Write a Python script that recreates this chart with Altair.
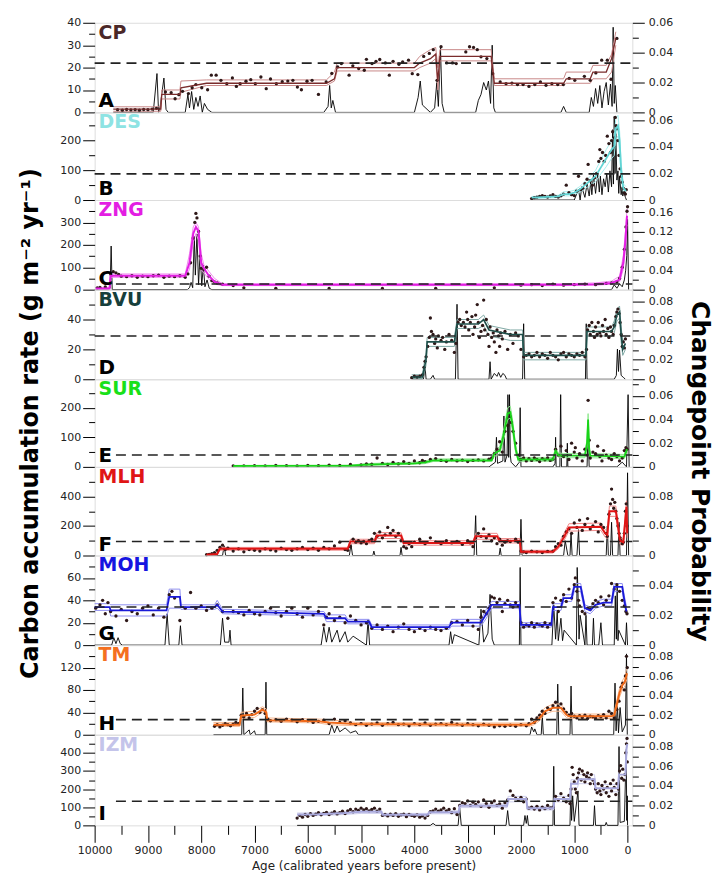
import altair as alt
import pandas as pd

FONT = "DejaVu Sans"
X_DOMAIN = [10000, -90]
X_TICKS = list(range(10000, -1, -500))
WIDTH = 540

# ---------------- CP ----------------
CP_DOTS = [(9570,1.2),(9480,1.0),(9400,1.3),(9320,1.1),(9240,1.2),(9160,1.0),(9080,1.3),(9000,1.2),(8920,1.5),(8840,1.8),
           (8672,9.1),(8564,8.8),(8490,6.1),(8420,7.9),(8350,9.4),(8240,8.4),(8170,11),(8100,12.4),(7990,11),(7880,10.1),
           (7810,16.6),(7720,16.6),(7630,14.3),(7520,12.8),(7415,15.4),(7340,11.6),(7270,12.8),(7160,13.9),(7070,14.6),(6985,12.8),
           (6880,15.8),(6780,10.6),(6700,14.9),(6590,12.8),(6480,13.7),(6375,14),(6280,14.3),(6195,11.3),(6120,10.1),(6015,13.9),
           (5920,14.3),(5800,8),(5655,13.6),(5550,17.4),(5440,20.3),(5370,21.8),(5225,16.6),(5155,20.8),(5045,19.6),(4940,18.8),
           (4900,23.7),(4795,21.8),(4720,22.8),(4650,23.6),(4545,22.1),(4470,16.6),(4400,22.8),(4290,21.5),(4220,22.5),(4110,23.3),
           (4040,17.3),(3935,16.9),(3825,25),(3720,26.3),(3645,28),(3575,14.3),(3500,29.3),(3395,22.1),(3285,22.1),(3215,21.8),
           (3035,27),(2965,29.3),(2890,29),(2820,28),(2750,24.8),(2640,24),(2530,17.3),(2390,13.6),(2280,12.8),(2170,13.1),
           (2065,12.4),(1960,12.4),(1850,11.6),(1740,12.4),(1635,13.6),(1530,12.1),(1420,12.8),(1310,12.4),(1205,12.4),(1095,15.2),
           (990,14.3),(810,16.1),(700,14.3),(595,17.6),(485,23.3),(380,23.3),(310,14.8),(200,33)]
CP_MODEL = [(9650,1.5,0.5,2.5),(8760,1.5,0.5,2.5),(8740,8,6,10),(8400,8,6,10),(8380,11,9,14),(7900,13,12,14.5),
            (5650,13,12,14.5),(5500,15,14,18),(5450,20,18.5,22),(4000,20,18.5,22),(3900,22,20,25),(3700,24,22,28),
            (3600,26,24,29),(3560,14,10,20),(3520,25,23,28),(2560,25,23,28),(2500,13,12,15),(1200,13,12,15),
            (1150,15,13,18),(700,15,13,18),(650,18,15,21),(400,18,15,21),(300,24,18,26),(220,33,30,36)]
CP_CHANGE = [(9650,0),(8900,0),(8830,0.026),(8800,0),(8770,0.004),(8700,0.023),(8660,0.002),(8620,0),
             (8300,0),(8250,0.012),(8220,0.003),(8180,0.014),(8140,0.002),(8100,0.01),(8060,0.004),(8020,0.011),(7980,0),(7940,0.006),(7880,0.002),(7800,0),
             (5700,0),(5620,0.004),(5590,0.018),(5560,0.003),(5530,0.008),(5480,0),
             (4000,0),(3930,0.01),(3890,0.021),(3850,0.005),
             (3700,0),(3620,0.003),(3580,0.02),(3550,0.004),(3510,0.043),(3480,0.006),(3440,0),
             (2850,0),(2800,0.008),(2750,0.012),(2700,0.02),(2650,0.015),(2610,0.021),(2570,0.006),(2540,0.045),(2510,0.003),(2480,0),
             (1250,0),(1200,0.004),(1150,0),
             (720,0),(680,0.01),(640,0.004),(600,0.016),(560,0.006),(520,0.018),(480,0.003),(440,0.014),(400,0.02),(360,0.005),
             (320,0.019),(290,0.004),(270,0.057),(250,0.006),(230,0.018),(200,0)]
CP_MEAN = 22

# ---------------- DES ----------------
DES_DOTS = [(1800,5),(1750,8),(1700,10),(1650,12),(1600,15),(1550,12),(1500,10),(1450,14),(1400,18),(1350,12),(1300,10),
            (1250,14),(1200,20),(1150,50),(1100,25),(1050,18),(1000,15),(960,30),(920,80),(880,35),(840,40),(800,55),(760,70),
            (740,120),(700,65),(660,50),(620,75),(580,90),(540,130),(520,170),(500,140),(470,160),(440,130),(410,150),(380,215),
            (350,190),(320,160),(300,200),(280,230),(260,180),(245,210),(230,278),(215,250),(200,240),(180,200),(160,150),
            (140,105),(120,80),(100,60),(80,40),(60,25),(40,20),(25,35)]
DES_MODEL = [(1800,8,5,12),(1300,12,8,16),(1200,20,14,28),(1100,20,14,28),(1000,25,18,33),(900,35,26,45),(800,50,38,62),
             (700,65,50,80),(600,80,62,100),(500,110,88,135),(400,140,112,170),(300,170,140,200),(250,180,150,215),
             (220,240,205,275),(180,250,215,285),(150,200,165,235),(120,100,75,125),(80,40,28,55),(30,30,18,45)]
DES_CHANGE = [(1800,0),(1000,0),(920,0.008),(890,0),(860,0.01),(800,0.002),(760,0.012),(720,0.003),(690,0.014),(670,0.004),
              (640,0.019),(600,0.005),(560,0.02),(530,0.006),(510,0.018),(480,0.004),(450,0.016),(420,0.01),(390,0.02),(360,0.006),
              (330,0.022),(300,0.01),(280,0.053),(265,0.012),(250,0.063),(235,0.02),(220,0.05),(200,0.015),(180,0.022),(165,0.005),
              (150,0.018),(120,0.004),(100,0.01),(90,0.003),(70,0.006),(40,0.002),(20,0)]
DES_MEAN = 88

# ---------------- ZNG ----------------
ZNG_DOTS = [(9950,8),(9900,10),(9800,12),(9700,70),(9650,80),(9600,75),(9550,68),(9500,60),(9400,58),(9300,62),(9200,55),
            (9100,60),(9000,58),(8900,62),(8800,65),(8700,55),(8600,60),(8500,58),(8400,62),(8300,55),(8250,70),(8200,120),
            (8150,230),(8120,300),(8100,340),(8080,320),(8050,260),(8020,150),(8000,95),(7950,90),(7900,100),(7850,60),
            (7800,40),(7750,35),(7700,30),(7600,25),(7400,18),(7200,8),(6600,6),(5600,5),(4600,5),(3600,6),(2500,8),
            (2000,20),(1800,22),(1600,18),(1400,25),(1200,20),(1000,22),(800,25),(600,22),(400,28),(300,30),(200,35),
            (150,50),(100,100),(60,180),(30,280),(10,350),(0,370)]
ZNG_MODEL = [(9980,5,2,10),(9720,5,2,10),(9700,62,55,70),(8300,62,55,70),(8220,120,90,160),(8150,250,210,280),
             (8100,280,250,300),(8050,260,220,280),(8000,120,90,160),(7950,95,75,110),(7850,60,45,80),(7750,35,25,50),
             (7600,22,18,26),(1200,22,18,26),(600,24,20,30),(300,30,24,38),(150,45,35,60),(80,120,90,150),
             (40,220,180,260),(10,330,290,360)]
ZNG_CHANGE = [(9980,0),(9740,0),(9710,0.003),(9690,0.09),(9670,0),(8260,0),(8220,0.004),(8190,0.015),(8160,0.004),
              (8130,0.11),(8110,0.03),(8080,0.115),(8050,0.01),(8020,0.08),(7990,0.008),(7960,0.05),(7930,0.006),
              (7890,0.02),(7850,0.003),(7800,0),(600,0),(300,0),(250,0.01),(200,0.003),(150,0.012),(100,0.006),
              (60,0.02),(35,0.04),(15,0.07),(0,0.145),(-20,0)]
ZNG_MEAN = 25

# ---------------- BVU ----------------
BVU_DOTS = [(4050,1),(4000,2),(3950,1.5),(3900,2),(3850,3),(3820,8),(3800,12),(3780,15),(3750,22),(3720,28),(3700,41),
            (3680,32),(3650,30),(3620,24),(3600,27),(3570,21),(3550,29),(3500,26),(3470,28),(3430,20),(3400,25),(3350,30),
            (3300,26),(3250,18),(3220,24),(3180,38),(3150,40),(3120,36),(3080,38),(3050,35),(3020,45),(3000,40),(2980,33),
            (2950,38),(2920,42),(2900,30),(2870,35),(2850,43),(2820,50),(2800,38),(2780,28),(2750,32),(2720,36),(2700,53),
            (2680,33),(2650,40),(2620,30),(2600,22),(2580,35),(2550,28),(2520,31),(2500,25),(2470,18),(2450,33),(2420,29),
            (2400,22),(2380,31),(2350,27),(2300,32),(2250,20),(2200,30),(2150,24),(2100,31),(2050,29),(2000,20),(1950,15),
            (1900,16),(1850,17),(1800,15),(1750,16),(1700,18),(1650,15),(1600,17),(1550,16),(1500,14),(1450,18),(1400,16),
            (1350,15),(1300,13),(1250,17),(1200,18),(1150,15),(1100,17),(1050,16),(1000,15),(950,17),(900,16),(850,18),
            (800,15),(770,20),(750,33),(720,36),(700,30),(670,38),(640,32),(620,28),(600,35),(570,30),(550,38),(520,31),
            (500,29),(470,36),(450,32),(420,40),(400,30),(370,34),(350,28),(320,35),(300,32),(270,30),(250,36),(220,42),
            (200,45),(180,47),(160,44),(140,38),(120,30),(100,22),(80,25),(60,21),(40,27)]
BVU_MODEL = [(4050,1.5,0.5,3),(3850,1.5,0.5,3),(3800,10,6,14),(3780,14,10,18),(3760,25,22,28),(3250,25,22,28),
             (3200,37,34,40),(2800,37,34,40),(2700,40,36,43),(2600,33,29,36),(2200,30,26,33),(1970,30,26,33),
             (1950,16,13,18),(780,16,13,18),(760,32,29,35),(300,32,29,35),(250,35,31,39),(200,43,39,47),
             (150,45,41,49),(120,30,25,35),(90,20,16,25),(40,24,20,28)]
BVU_CHANGE = [(4050,0),(3830,0),(3800,0.013),(3780,0),(3700,0),(3650,0.004),(3620,0),(3230,0),(3200,0.077),(3180,0),
              (2700,0),(2600,0),(2580,0.018),(2560,0),(2500,0.006),(2450,0.003),(2420,0.007),(2380,0.002),(2340,0.006),
              (2300,0.004),(2270,0),(1970,0),(1950,0.057),(1930,0),(790,0),(775,0.057),(760,0),(250,0),(210,0.004),
              (190,0.031),(170,0.008),(150,0.03),(120,0.004),(80,0.002),(40,0)]
BVU_MEAN = 29

# ---------------- SUR ----------------
SUR_DOTS = [(7400,3),(7200,3),(7000,4),(6800,3),(6600,5),(6400,4),(6200,3),(6000,5),(5800,4),(5600,6),(5400,5),(5200,8),
            (5000,7),(4900,10),(4800,9),(4700,30),(4600,12),(4500,8),(4400,15),(4300,10),(4200,18),(4100,12),(4000,20),
            (3900,14),(3850,22),(3800,18),(3700,25),(3600,28),(3500,22),(3400,19),(3300,25),(3200,20),(3100,23),(3000,18),
            (2900,22),(2800,24),(2700,20),(2600,26),(2550,30),(2500,45),(2450,60),(2400,85),(2350,50),(2300,120),(2250,140),
            (2200,170),(2180,150),(2150,120),(2100,80),(2050,40),(2000,25),(1950,30),(1900,20),(1850,28),(1800,22),(1750,30),
            (1700,25),(1650,18),(1600,28),(1550,24),(1500,30),(1450,22),(1400,26),(1350,60),(1300,40),(1250,70),(1200,35),
            (1150,55),(1100,25),(1050,80),(1000,50),(980,65),(950,30),(900,45),(850,20),(800,60),(760,40),(740,225),(720,90),
            (700,30),(650,50),(600,45),(560,70),(520,35),(480,20),(450,55),(400,40),(350,30),(300,25),(250,45),(200,35),
            (150,20),(100,30),(60,55),(30,65),(10,60)]
SUR_MODEL = [(7400,3,1.5,5),(5200,4,2.5,6),(4900,8,5,11),(4000,12,9,16),(3800,15,11,20),(3650,22,18,27),(2550,22,18,27),
             (2500,45,35,55),(2400,55,44,68),(2350,90,75,105),(2300,130,110,150),(2250,180,160,200),(2200,185,165,205),
             (2150,130,110,150),(2100,60,48,75),(2050,25,19,32),(1400,25,19,32),(1350,55,45,65),(1300,40,33,48),
             (1200,38,31,45),(800,38,31,45),(760,80,65,95),(740,160,140,180),(720,60,48,75),(700,38,31,45),
             (60,35,28,42),(30,50,40,60),(10,60,50,70)]
SUR_CHANGE = [(7400,0),(2600,0),(2480,0.004),(2460,0.025),(2440,0.003),(2340,0.005),(2320,0.043),(2300,0.004),(2260,0.01),
              (2245,0.061),(2230,0.008),(2215,0.061),(2200,0.01),(2185,0.004),(2100,0),(2030,0.004),(2015,0.05),(2000,0),
              (1400,0),(1360,0.003),(1350,0.025),(1340,0),(1270,0),(1255,0.061),(1240,0),(1140,0),(1130,0.02),(1120,0),
              (760,0),(740,0.03),(720,0),(200,0),(100,0.004),(20,0),(-10,0.061),(-30,0)]
SUR_MEAN = 40

# ---------------- MLH ----------------
MLH_DOTS = [(7900,5),(7850,8),(7800,12),(7750,20),(7700,35),(7650,55),(7600,70),(7550,40),(7500,50),(7400,30),(7300,45),
            (7200,25),(7100,40),(7000,35),(6900,30),(6800,45),(6700,38),(6600,30),(6500,50),(6400,40),(6300,35),(6200,45),
            (6100,55),(6000,40),(5900,50),(5800,35),(5700,55),(5600,45),(5500,65),(5400,90),(5300,40),(5250,35),(5200,60),
            (5150,110),(5100,90),(5050,100),(5000,85),(4950,95),(4900,80),(4850,100),(4800,110),(4750,150),(4700,130),
            (4650,160),(4600,120),(4550,140),(4500,190),(4450,150),(4400,170),(4350,130),(4300,150),(4250,100),(4200,60),
            (4150,50),(4100,80),(4050,60),(4000,90),(3900,110),(3800,80),(3700,120),(3600,90),(3500,80),(3400,100),
            (3300,85),(3200,95),(3100,75),(3000,100),(2950,85),(2900,60),(2850,120),(2800,150),(2750,130),(2700,180),
            (2650,120),(2600,140),(2550,100),(2500,120),(2450,80),(2400,110),(2350,70),(2300,90),(2250,100),(2200,95),
            (2100,110),(2050,90),(2000,30),(1950,25),(1900,20),(1800,30),(1700,25),(1600,20),(1500,28),(1400,30),(1350,60),
            (1300,80),(1250,70),(1200,130),(1150,160),(1100,180),(1050,150),(1000,220),(950,190),(900,240),(850,170),
            (800,210),(750,250),(700,180),(650,200),(600,230),(550,160),(500,210),(450,190),(400,150),(380,130),(350,280),
            (320,350),(300,450),(280,380),(260,320),(240,360),(220,300),(200,250),(180,200),(160,150),(140,120),(120,100),
            (100,80),(80,90),(60,150),(40,300),(25,350),(10,200)]
MLH_MODEL = [(7900,5,2,10),(7700,10,5,16),(7650,45,36,55),(5250,45,36,55),(5200,95,80,110),(4750,95,80,110),
             (4700,135,115,155),(4250,135,115,155),(4200,85,70,100),(2900,85,70,100),(2850,130,110,150),
             (2450,130,110,150),(2400,100,85,115),(2020,100,85,115),(2000,25,17,35),(1400,25,17,35),(1300,60,45,75),
             (1200,120,95,145),(1100,190,165,215),(500,195,170,220),(420,150,125,175),(380,140,115,165),
             (340,300,265,335),(220,300,265,335),(180,200,170,230),(140,100,75,125),(80,90,70,110),(40,250,210,290),
             (20,330,290,370),(5,150,120,180)]
MLH_CHANGE = [(7900,0),(7600,0),(7570,0.013),(7540,0),(5220,0),(5190,0.015),(5160,0),(4780,0),(4760,0.006),(4740,0),
              (4270,0),(4250,0.011),(4230,0),(2880,0),(2850,0.054),(2830,0),(2410,0),(2390,0.01),(2370,0),(2020,0),
              (2000,0.049),(1980,0),(1200,0),(1170,0.02),(1120,0),(1080,0),(1060,0.03),(1040,0),(950,0),(920,0.035),
              (900,0),(400,0),(380,0.04),(360,0),(320,0),(300,0.045),(280,0),(180,0),(160,0.045),(140,0),(20,0),
              (0,0.112),(-20,0)]
MLH_MEAN = 95

# ---------------- MOH ----------------
MOH_DOTS = [(9980,33),(9900,36),(9850,40),(9800,28),(9750,38),(9700,30),(9600,26),(9500,32),(9400,22),(9300,30),(9200,28),
            (9100,33),(9000,35),(8900,27),(8800,33),(8700,25),(8600,45),(8550,48),(8500,42),(8400,22),(8300,33),(8200,47),
            (8100,33),(8000,35),(7900,31),(7800,33),(7700,36),(7600,30),(7500,24),(7400,30),(7300,29),(7200,27),(7100,31),
            (7000,28),(6900,27),(6800,30),(6700,33),(6600,29),(6500,26),(6400,30),(6300,33),(6200,28),(6100,25),(6000,33),
            (5900,27),(5800,30),(5700,18),(5650,25),(5600,28),(5500,22),(5400,25),(5300,20),(5200,26),(5100,22),(5000,18),
            (4900,20),(4800,15),(4700,18),(4600,14),(4500,17),(4400,12),(4300,16),(4200,19),(4100,14),(4000,12),(3900,15),
            (3800,13),(3700,16),(3600,14),(3500,13),(3400,15),(3300,20),(3200,21),(3100,18),(3000,22),(2900,17),(2800,14),
            (2750,25),(2700,30),(2650,28),(2600,33),(2550,43),(2500,42),(2450,38),(2400,41),(2350,30),(2300,37),(2250,40),
            (2200,36),(2150,34),(2100,38),(2050,35),(2000,20),(1950,16),(1900,18),(1850,17),(1800,20),(1750,16),(1700,19),
            (1650,18),(1600,17),(1550,20),(1500,16),(1450,19),(1400,38),(1350,42),(1300,30),(1250,40),(1200,45),(1150,39),
            (1100,50),(1050,42),(1000,54),(980,60),(950,48),(920,40),(900,35),(850,30),(800,28),(750,33),(700,32),(650,37),
            (600,40),(550,38),(500,43),(450,36),(400,40),(350,44),(300,55),(250,50),(200,54),(150,48),(100,40),(60,35),
            (30,30),(10,28)]
MOH_MODEL = [(10000,34,31,37),(9720,34,31,37),(9700,31,26,36),(8650,31,26,36),(8600,43,33,50),(8400,43,33,50),
             (8380,34,32,36),(7750,34,32,36),(7700,36,33,40),(7600,30,28,32),(5700,28,26,30),(5650,24,21,27),
             (5300,24,21,27),(5250,21,19,23),(4850,21,19,23),(4800,16,14,18),(3350,16,14,18),(3300,20,17,23),
             (2750,20,17,23),(2650,28,24,32),(2550,36,33,39),(2030,36,33,39),(2000,18,16,20),(1430,18,16,20),
             (1400,34,31,37),(1250,34,31,37),(1200,42,39,45),(1050,42,39,45),(1000,52,48,55),(880,52,48,55),
             (800,33,30,36),(700,31,28,34),(600,36,33,39),(450,38,35,41),(300,38,35,41),(250,52,48,55),
             (100,52,48,55),(60,40,36,44),(20,30,27,34)]
MOH_CHANGE = [(10000,0),(9680,0),(9640,0.005),(9600,0.001),(9560,0.005),(9520,0.001),(9480,0),(8680,0),(8640,0.021),
              (8600,0),(8420,0),(8390,0.013),(8360,0),(7640,0),(7600,0.018),(7560,0.002),(7480,0.002),(7460,0.01),
              (7440,0),(5750,0),(5700,0.012),(5650,0.002),(5600,0.012),(5550,0.002),(5450,0.01),(5400,0.002),
              (5300,0.009),(5250,0.002),(5150,0.006),(4900,0),(4870,0.017),(4840,0),(3350,0),(3320,0.009),
              (3290,0.001),(3250,0.007),(2790,0),(2750,0.024),(2700,0.002),(2620,0.008),(2580,0.034),(2540,0.004),
              (2500,0),(2030,0),(2015,0.052),(2000,0),(1420,0),(1385,0.027),(1350,0.004),(1320,0.022),(1300,0.003),
              (1250,0.018),(1220,0.003),(1190,0.01),(960,0),(945,0.052),(930,0.035),(910,0.004),(890,0.02),(800,0),
              (780,0.02),(760,0),(660,0),(640,0.018),(620,0),(540,0),(500,0.015),(470,0),(250,0),(230,0.033),
              (210,0.004),(195,0.04),(180,0.003),(165,0.01),(40,0),(20,0.015),(0,0)]
MOH_MEAN = 34

# ---------------- TM ----------------
TM_DOTS = [(7750,15),(7700,18),(7650,14),(7600,17),(7550,20),(7500,18),(7450,16),(7400,19),(7350,22),(7300,20),(7250,35),
           (7200,32),(7150,38),(7100,30),(7050,36),(7000,42),(6950,47),(6900,40),(6850,45),(6800,38),(6750,28),(6700,25),
           (6600,27),(6500,24),(6400,28),(6300,26),(6200,23),(6100,27),(6000,25),(5900,22),(5800,24),(5700,26),(5600,20),
           (5500,28),(5400,22),(5300,25),(5200,21),(5100,18),(5000,20),(4900,17),(4800,19),(4700,21),(4600,17),(4500,20),
           (4400,22),(4300,18),(4200,19),(4100,16),(4000,20),(3900,18),(3800,21),(3700,17),(3600,19),(3500,20),(3400,18),
           (3300,22),(3200,19),(3100,17),(3000,20),(2900,18),(2800,16),(2700,19),(2600,17),(2500,14),(2400,16),(2300,15),
           (2200,17),(2100,15),(2000,18),(1900,16),(1850,20),(1800,28),(1750,22),(1700,30),(1650,35),(1600,42),(1550,38),
           (1500,48),(1450,45),(1400,52),(1350,58),(1300,50),(1250,55),(1200,46),(1150,40),(1100,35),(1050,38),(1000,33),
           (950,30),(900,34),(850,31),(800,35),(750,29),(700,33),(650,32),(600,30),(550,34),(500,32),(450,36),(400,30),
           (350,42),(300,38),(250,30),(200,45),(160,60),(120,85),(90,92),(60,80),(40,105),(20,140),(5,120)]
TM_MODEL = [(7770,18,15,22),(7280,18,15,22),(7250,34,29,40),(7000,36,31,42),(6850,45,40,50),(6780,40,34,46),
            (6760,26,23,30),(5800,24,21,28),(5600,22,18,27),(5100,19,16,22),(2600,18,15,21),(1850,18,15,21),
            (1750,22,18,27),(1650,30,25,36),(1550,42,37,48),(1400,48,42,55),(1250,48,42,55),(1150,36,31,42),
            (1100,33,29,37),(300,33,29,37),(250,35,31,40),(200,55,48,62),(150,75,67,83),(100,88,80,96),
            (50,95,87,104),(10,110,100,120)]
TM_CHANGE = [(7770,0),(7240,0),(7220,0.048),(7200,0),(7100,0.005),(7080,0),(7000,0.004),(6980,0),(6800,0),(6785,0.054),
             (6770,0),(5600,0),(5550,0.01),(5500,0.002),(5450,0.009),(5400,0.003),(5300,0.007),(5200,0.002),(5100,0.004),
             (5050,0),(1830,0),(1800,0.008),(1760,0.003),(1740,0.006),(1700,0),(1620,0),(1600,0.02),(1580,0),(1330,0),
             (1310,0.052),(1290,0),(1080,0),(1060,0.05),(1040,0),(260,0),(235,0.053),(215,0.004),(190,0.03),(170,0.002),
             (140,0.028),(100,0.003),(40,0.01),(20,0.083),(5,0)]
TM_MEAN = 27

# ---------------- IZM ----------------
IZM_DOTS = [(6200,40),(6150,55),(6100,45),(6050,60),(6000,50),(5950,65),(5900,55),(5850,62),(5800,70),(5750,58),(5700,66),
            (5650,72),(5600,60),(5550,68),(5500,75),(5450,63),(5400,70),(5350,78),(5300,65),(5250,80),(5200,88),(5150,75),
            (5100,90),(5050,82),(5000,95),(4950,85),(4900,92),(4850,80),(4800,88),(4750,95),(4700,78),(4650,90),(4600,55),
            (4550,60),(4500,52),(4450,62),(4400,55),(4350,65),(4300,50),(4250,58),(4200,62),(4150,48),(4100,60),(4050,55),
            (4000,50),(3950,58),(3900,45),(3850,52),(3800,40),(3750,55),(3700,75),(3650,80),(3600,90),(3550,78),(3500,85),
            (3450,95),(3400,80),(3350,88),(3300,70),(3250,92),(3200,60),(3150,110),(3100,125),(3050,120),(3000,135),
            (2950,110),(2900,128),(2850,115),(2800,130),(2750,105),(2700,140),(2650,120),(2600,100),(2550,125),(2500,135),
            (2450,110),(2400,118),(2350,95),(2300,125),(2250,140),(2200,190),(2150,165),(2100,150),(2050,140),(2000,155),
            (1950,130),(1900,145),(1850,95),(1800,100),(1750,90),(1700,105),(1650,85),(1600,100),(1550,92),(1500,110),
            (1450,96),(1400,100),(1350,160),(1300,140),(1250,175),(1200,150),(1150,130),(1100,165),(1080,120),(1060,200),
            (1040,320),(1020,280),(1000,240),(980,200),(960,180),(940,260),(920,290),(900,310),(870,250),(850,300),
            (820,280),(800,240),(770,270),(750,290),(720,260),(700,230),(680,280),(650,250),(620,230),(600,200),(570,180),
            (550,230),(520,190),(500,170),(480,220),(450,200),(420,240),(400,180),(380,210),(350,160),(320,230),(300,190),
            (270,250),(250,210),(220,170),(200,230),(170,200),(150,300),(130,330),(110,260),(90,310),(70,250),(50,280),
            (35,400),(20,450),(10,480),(5,350)]
IZM_MODEL = [(6200,60,52,68),(5800,62,54,70),(5300,68,60,76),(5000,75,66,84),(4620,75,66,84),(4600,58,50,66),
             (3750,58,50,66),(3720,72,64,80),(3170,72,64,80),(3150,108,98,118),(2260,108,98,118),(2240,145,130,160),
             (1900,145,130,160),(1880,95,85,105),(1390,95,85,105),(1370,145,130,160),(1080,145,130,160),
             (1060,230,208,252),(940,230,208,252),(920,255,230,280),(620,255,230,280),(600,205,185,225),
             (180,205,185,225),(160,280,255,305),(40,280,255,305),(20,420,380,460),(5,450,410,490)]
IZM_CHANGE = [(6200,0),(3700,0),(3650,0.002),(3600,0),(3180,0),(3150,0.018),(3120,0),(2280,0),(2250,0.015),(2220,0),
              (1950,0),(1925,0.01),(1900,0.002),(1880,0.01),(1860,0),(1400,0),(1385,0.06),(1370,0),(1080,0),
              (1065,0.037),(1050,0.005),(1030,0.03),(1000,0.004),(930,0.035),(910,0),(640,0),(620,0.02),(600,0),
              (420,0),(400,0.003),(380,0),(180,0),(160,0.08),(140,0.003),(60,0.004),(25,0.077),(15,0.005),(5,0.03),(0,0)]
IZM_MEAN = 133

SITES = [
    dict(name="CP", letter="A", lab="#4a2828", line="#7a2c2c", band="#c98888", lw=1.3,
         dots=CP_DOTS, model=CP_MODEL, change=CP_CHANGE, mean=CP_MEAN, dash_from=10000,
         ydom=[0, 40], yticks=[0, 5, 10, 15, 20, 25, 30, 35, 40], ylab=10,
         pdom=[0, 0.06], pticks=[0, 0.01, 0.02, 0.03, 0.04, 0.05, 0.06], plab=20, h=90),
    dict(name="DES", letter="B", lab="#8ee3e3", line="#62d4d4", band="#a6eeee", lw=1.8,
         dots=DES_DOTS, model=DES_MODEL, change=DES_CHANGE, mean=DES_MEAN, dash_from=10000,
         ydom=[0, 295], yticks=[0, 50, 100, 150, 200, 250], ylab=100,
         pdom=[0, 0.066], pticks=[0, 0.01, 0.02, 0.03, 0.04, 0.05, 0.06], plab=20, h=88),
    dict(name="ZNG", letter="C", lab="#e31ee3", line="#e31ee3", band="#f08af0", lw=2,
         dots=ZNG_DOTS, model=ZNG_MODEL, change=ZNG_CHANGE, mean=ZNG_MEAN, dash_from=9600,
         ydom=[0, 400], yticks=[0, 50, 100, 150, 200, 250, 300, 350], ylab=100,
         pdom=[0, 0.185], pticks=[0, 0.02, 0.04, 0.06, 0.08, 0.1, 0.12, 0.14, 0.16], plab=40, h=90),
    dict(name="BVU", letter="D", lab="#173f3c", line="#1f4f4a", band="#7fa8a4", lw=1.6,
         dots=BVU_DOTS, model=BVU_MODEL, change=BVU_CHANGE, mean=BVU_MEAN, dash_from=10000,
         ydom=[0, 60], yticks=[0, 10, 20, 30, 40, 50], ylab=20,
         pdom=[0, 0.092], pticks=[0, 0.01, 0.02, 0.03, 0.04, 0.05, 0.06, 0.07, 0.08], plab=20, h=90),
    dict(name="SUR", letter="E", lab="#19e019", line="#19d419", band="#8ee88e", lw=1.8,
         dots=SUR_DOTS, model=SUR_MODEL, change=SUR_CHANGE, mean=SUR_MEAN, dash_from=9600,
         ydom=[0, 296], yticks=[0, 50, 100, 150, 200, 250], ylab=100,
         pdom=[0, 0.074], pticks=[0, 0.01, 0.02, 0.03, 0.04, 0.05, 0.06, 0.07], plab=20, h=88,
         left_title=True, right_title=True),
    dict(name="MLH", letter="F", lab="#e01515", line="#e01515", band="#f08a8a", lw=2,
         dots=MLH_DOTS, model=MLH_MODEL, change=MLH_CHANGE, mean=MLH_MEAN, dash_from=9600,
         ydom=[0, 600], yticks=[0, 100, 200, 300, 400, 500], ylab=200,
         pdom=[0, 0.12], pticks=[0, 0.02, 0.04, 0.06, 0.08, 0.1], plab=40, h=89),
    dict(name="MOH", letter="G", lab="#1515e0", line="#1a1ad8", band="#8f8ff0", lw=1.8,
         dots=MOH_DOTS, model=MOH_MODEL, change=MOH_CHANGE, mean=MOH_MEAN, dash_from=10000,
         ydom=[0, 80], yticks=[0, 10, 20, 30, 40, 50, 60, 70], ylab=20,
         pdom=[0, 0.06], pticks=[0, 0.01, 0.02, 0.03, 0.04, 0.05], plab=20, h=90),
    dict(name="TM", letter="H", lab="#f47020", line="#f06a1a", band="#f8b890", lw=2,
         dots=TM_DOTS, model=TM_MODEL, change=TM_CHANGE, mean=TM_MEAN, dash_from=9600,
         ydom=[0, 160], yticks=[0, 20, 40, 60, 80, 100, 120, 140], ylab=40,
         pdom=[0, 0.092], pticks=[0, 0.01, 0.02, 0.03, 0.04, 0.05, 0.06, 0.07, 0.08], plab=20, h=90),
    dict(name="IZM", letter="I", lab="#c4c4ea", line="#a8a8dc", band="#cfcfee", lw=2,
         dots=IZM_DOTS, model=IZM_MODEL, change=IZM_CHANGE, mean=IZM_MEAN, dash_from=9600,
         ydom=[0, 500], yticks=[0, 50, 100, 150, 200, 250, 300, 350, 400, 450], ylab=100,
         pdom=[0, 0.092], pticks=[0, 0.01, 0.02, 0.03, 0.04, 0.05, 0.06, 0.07, 0.08], plab=20, h=91),
]


def build_panel(s, bottom):
    h = s["h"]
    xs = alt.Scale(domain=X_DOMAIN, nice=False, zero=False)
    if bottom:
        xaxis = alt.Axis(values=X_TICKS, format="d",
                         labelExpr="datum.value % 1000 == 0 ? datum.label : ''",
                         tickSize={"condition": {"test": "datum.value % 1000 == 0", "value": 17}, "value": 9},
                         domain=False, grid=False, labelFlush=False, labelOverlap=False,
                         labelFontSize=11, labelColor="#222", labelPadding=2, tickColor="black",
                         title="Age (calibrated years before present)", titleFontSize=12,
                         titleFontWeight="normal", titleColor="#222", titlePadding=5)
    else:
        xaxis = None

    def X(f):
        return alt.X(f + ":Q", scale=xs, axis=xaxis)

    ys = alt.Scale(domain=s["ydom"], nice=False, zero=False)
    ykw = dict(orient="left", values=s["yticks"], format="d",
               labelExpr=f"datum.value % {s['ylab']} == 0 ? datum.label : ''",
               tickSize={"condition": {"test": f"datum.value % {s['ylab']} == 0", "value": 12}, "value": 6},
               domain=False, grid=False, labelFlush=False, labelOverlap=False,
               labelFontSize=11, labelColor="#222", labelPadding=2, tickColor="black")
    if s.get("left_title"):
        ykw.update(title="Carbon accumulation rate (g m\u207b\u00b2 yr\u207b\u00b9)", titleFontSize=24,
                   titleFontWeight="bold", titleColor="black", titlePadding=17)
    else:
        ykw["title"] = None
    yaxis = alt.Axis(**ykw)

    ps = alt.Scale(domain=s["pdom"], nice=False, zero=False)
    pkw = dict(orient="right", values=s["pticks"], format=".2~f",
               labelExpr=f"round(datum.value*1000) % {s['plab']} == 0 ? datum.label : ''",
               tickSize={"condition": {"test": f"round(datum.value*1000) % {s['plab']} == 0", "value": 12}, "value": 6},
               domain=False, grid=False, labelFlush=False, labelOverlap=False,
               labelFontSize=11, labelColor="#222", labelPadding=4, tickColor="black")
    if s.get("right_title"):
        pkw.update(title="Changepoint Probability", titleFontSize=25, titleFontWeight="bold",
                   titleColor="black", titlePadding=14, titleY=92)
    else:
        pkw["title"] = None
    paxis = alt.Axis(**pkw)

    mdf = pd.DataFrame(s["model"], columns=["a", "m", "lo", "hi"])
    mdf["i"] = range(len(mdf))
    ddf = pd.DataFrame(s["dots"], columns=["a", "v"])
    cdf = pd.DataFrame(s["change"], columns=["a", "p"])
    cdf["i"] = range(len(cdf))
    rdf = pd.DataFrame({"a": [s["dash_from"]], "a2": [X_DOMAIN[1]], "m": [s["mean"]]})

    base_m = alt.Chart(mdf)
    lo = base_m.mark_line(color=s["band"], strokeWidth=1).encode(
        x=X("a"), y=alt.Y("lo:Q", scale=ys, axis=yaxis), order="i:Q")
    hi = base_m.mark_line(color=s["band"], strokeWidth=1).encode(
        x=X("a"), y=alt.Y("hi:Q", scale=ys, axis=yaxis), order="i:Q")
    dots = alt.Chart(ddf).mark_circle(size=11, color="#2e1818", opacity=1).encode(
        x=X("a"), y=alt.Y("v:Q", scale=ys, axis=yaxis))
    mean_line = base_m.mark_line(color=s["line"], strokeWidth=s["lw"]).encode(
        x=X("a"), y=alt.Y("m:Q", scale=ys, axis=yaxis), order="i:Q")
    dash = alt.Chart(rdf).mark_rule(color="#222", strokeWidth=1.6, strokeDash=[10, 6]).encode(
        x=X("a"), x2="a2:Q", y=alt.Y("m:Q", scale=ys, axis=yaxis))
    site = alt.Chart(pd.DataFrame({"t": [s["name"]]})).mark_text(
        align="left", baseline="top", font=FONT, fontSize=19, fontWeight="bold", color=s["lab"]
    ).encode(x=alt.value(4), y=alt.value(1), text="t:N")
    letter = alt.Chart(pd.DataFrame({"t": [s["letter"]]})).mark_text(
        align="left", baseline="bottom", font=FONT, fontSize=20, fontWeight="bold", color="black"
    ).encode(x=alt.value(4), y=alt.value(h - 1), text="t:N")

    left = alt.layer(lo, hi, dots, mean_line, dash, site, letter)
    cp = alt.Chart(cdf).mark_line(color="black", strokeWidth=0.9).encode(
        x=X("a"), y=alt.Y("p:Q", scale=ps, axis=paxis), order="i:Q")
    return alt.layer(cp, left).resolve_scale(y="independent").properties(width=WIDTH, height=h)


panels = [build_panel(s, i == len(SITES) - 1) for i, s in enumerate(SITES)]

chart = alt.vconcat(*panels, spacing=0, bounds="flush").properties(
    padding={"left": 10, "top": 6, "right": 2, "bottom": 0}
).configure_view(stroke="black", strokeWidth=1).configure(font=FONT)

chart.save("out.html", embed_options={"renderer": "svg", "actions": False})
